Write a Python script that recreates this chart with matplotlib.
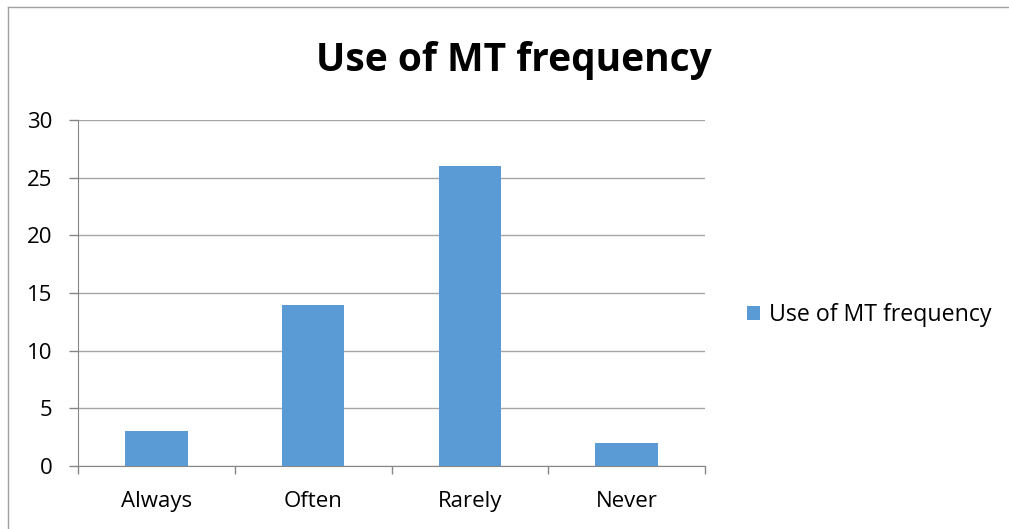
import matplotlib.pyplot as plt
from matplotlib.lines import Line2D
import numpy as np

categories = ["Always", "Often", "Rarely", "Never"]
counts = [3, 14, 26, 2]
series_name = "Use of MT frequency"
y_ticks = [0, 5, 10, 15, 20, 25, 30]

plt.rcParams["font.family"] = ["Open Sans", "DejaVu Sans"]

W, H = 1009, 529
fig = plt.figure(figsize=(W / 100, H / 100), dpi=100)

# axes box in pixels: x 78..705, y 120..466
ax = fig.add_axes([78 / W, 1 - 466 / H, (705 - 78) / W, (466 - 120) / H])

x = np.arange(len(categories))
bars = ax.bar(x, counts, width=0.4, color="#5B9BD5", label=series_name, zorder=3)

ax.set_xlim(-0.5, len(categories) - 0.5)
ax.set_ylim(0, 30)
ax.set_yticks(y_ticks)
ax.set_yticklabels([str(v) for v in y_ticks], fontsize=16)
ax.yaxis.grid(True, color="#A6A6A6", linewidth=1, zorder=0)

# category labels centred, ticks at category boundaries
ax.set_xticks(np.arange(len(categories) + 1) - 0.5)
ax.set_xticklabels([])
ax.set_xticks(x, minor=True)
ax.set_xticklabels(categories, minor=True, fontsize=16)
ax.tick_params(axis="x", which="minor", length=0, pad=18)
ax.tick_params(axis="x", which="major", length=6, color="#868686", width=1)
ax.tick_params(axis="y", length=6.5, color="#868686", width=1, pad=12)

for side in ["top", "right"]:
    ax.spines[side].set_visible(False)
ax.spines["left"].set_color("#868686")
ax.spines["bottom"].set_color("#868686")

fig.text(514 / W, 1 - 60 / H, "Use of MT frequency", ha="center", va="center",
         fontsize=28, fontweight="bold")

fig.legend(handles=[bars], labels=[series_name], loc="center left",
           bbox_to_anchor=(740 / W, 1 - 315 / H), frameon=False, fontsize=16.7,
           handlelength=0.55, handleheight=0.55, handletextpad=0.4,
           borderaxespad=0, borderpad=0.3)

# chart area border (top and left visible)
fig.add_artist(Line2D([8 / W, 1], [1 - 7 / H, 1 - 7 / H], color="#A0A0A0", linewidth=1))
fig.add_artist(Line2D([8 / W, 8 / W], [0, 1 - 7 / H], color="#A0A0A0", linewidth=1))

fig.savefig("out.png", dpi=100, facecolor="white")
